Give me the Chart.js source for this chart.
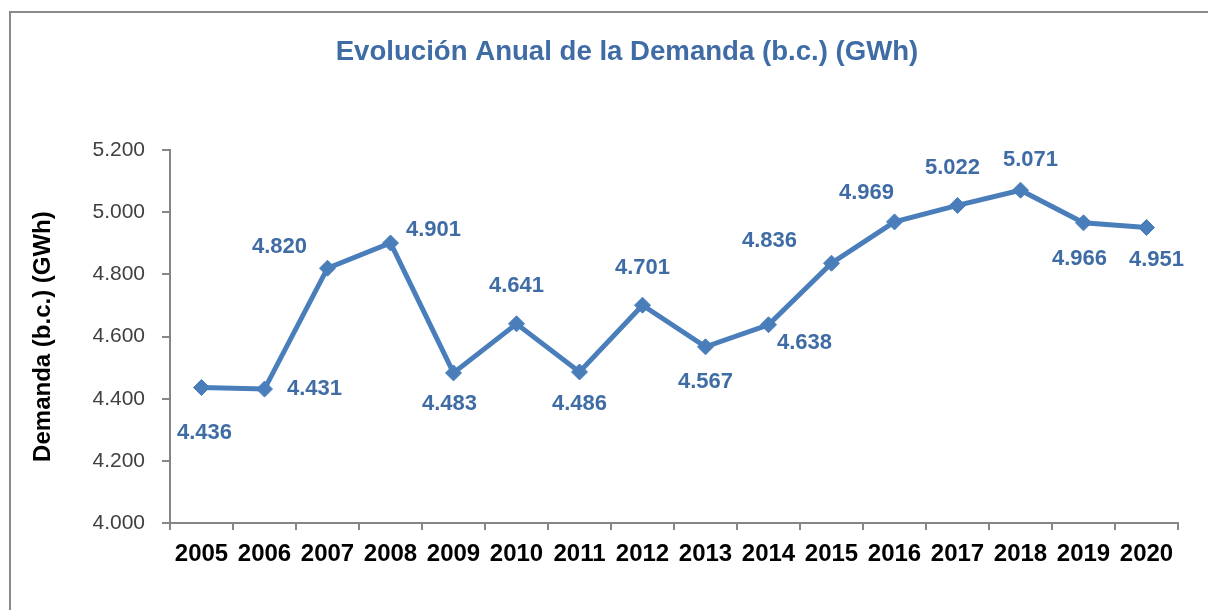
<!DOCTYPE html>
<html>
<head>
<meta charset="utf-8">
<script src="https://cdn.jsdelivr.net/npm/chart.js@4/dist/chart.umd.min.js"></script>
<style>
  html, body { margin: 0; padding: 0; background: #fff; overflow: hidden; }
  #frame {
    position: absolute; left: 9px; top: 11px; width: 1240px; height: 640px;
    border: 2px solid #8a8a8a; box-sizing: border-box;
  }
  #wrap { position: absolute; left: 0; top: 0; width: 1208px; height: 610px; }
</style>
</head>
<body>
<div id="frame"></div>
<div id="wrap"><canvas id="lineChart" width="1208" height="610"></canvas></div>
<script>
// datos
var years = ["2005", "2006", "2007", "2008", "2009", "2010", "2011", "2012",
             "2013", "2014", "2015", "2016", "2017", "2018", "2019", "2020"];
var demand = [4436, 4431, 4820, 4901, 4483, 4641, 4486, 4701,
              4567, 4638, 4836, 4969, 5022, 5071, 4966, 4951];
var yTicks = [4000, 4200, 4400, 4600, 4800, 5000, 5200];

// where each value label sits relative to its marker (dx, dy)
var labelOffsets = [
    [3, 45], [50, 0], [-48, -21], [43, -13], [-4, 31], [0, -38], [0, 32], [0, -37],
    [0, 35], [36, 18], [-62, -22], [-28, -29], [-5, -37], [10, -30], [-4, 36], [10, 32]
];

function fmt(v) {
    return String(v).replace(/\B(?=(\d{3})+(?!\d))/g, '.');
}

var blue = '#4a7ebb';
var labelBlue = '#3f6ca5';

var valueLabels = {
    id: 'valueLabels',
    afterDatasetsDraw: function (chart) {
        var ctx = chart.ctx;
        var meta = chart.getDatasetMeta(0);
        ctx.save();
        ctx.font = 'bold 22px "Liberation Sans", Arial, sans-serif';
        ctx.fillStyle = labelBlue;
        ctx.textAlign = 'center';
        ctx.textBaseline = 'middle';
        meta.data.forEach(function (pt, i) {
            ctx.fillText(fmt(demand[i]), pt.x + labelOffsets[i][0], pt.y + labelOffsets[i][1]);
        });
        ctx.restore();
    }
};

var lineData = {
    labels: years,
    datasets: [
        {
            label: "Demanda",
            data: demand,
            borderColor: blue,
            backgroundColor: blue,
            borderWidth: 5,
            pointStyle: 'rectRot',
            pointRadius: 8,
            pointBorderWidth: 1,
            pointBackgroundColor: blue,
            pointBorderColor: blue,
            tension: 0,
            fill: false
        }
    ]
};

var lineOptions = {
    responsive: false,
    animation: false,
    events: [],
    layout: { padding: { left: 76, right: 30, top: 0, bottom: 0 } },
    plugins: {
        legend: { display: false },
        tooltip: { enabled: false },
        title: {
            display: true,
            text: 'Evolución Anual de la Demanda (b.c.) (GWh)',
            color: labelBlue,
            font: { family: '"Liberation Sans", Arial, sans-serif', size: 27.6, weight: 'bold' },
            padding: { top: 36, bottom: 81 }
        }
    },
    scales: {
        x: {
            offset: true,
            grid: { offset: true, drawOnChartArea: false, color: '#868686', lineWidth: 2, tickLength: 7 },
            border: { color: '#868686', width: 2 },
            ticks: {
                color: '#000',
                autoSkip: false,
                maxRotation: 0,
                padding: 10,
                font: { family: '"Liberation Sans", Arial, sans-serif', size: 24, weight: 'bold' }
            },
            afterFit: function (scale) { scale.height = 87; }
        },
        y: {
            min: yTicks[0],
            max: yTicks[yTicks.length - 1],
            afterBuildTicks: function (scale) {
                scale.ticks = yTicks.map(function (v) { return { value: v }; });
            },
            grid: { drawOnChartArea: false, color: '#868686', lineWidth: 2, tickLength: 8 },
            border: { color: '#868686', width: 2 },
            ticks: {
                color: '#404040',
                padding: 17,
                font: { family: '"Liberation Sans", Arial, sans-serif', size: 21 },
                callback: function (v) { return fmt(v); }
            },
            title: {
                display: true,
                text: 'Demanda (b.c.) (GWh)',
                color: '#000',
                font: { family: '"Liberation Sans", Arial, sans-serif', size: 24, weight: 'bold' },
                padding: { top: -47, bottom: 0 }
            },
            afterFit: function (scale) { scale.width = 94; }
        }
    }
};

var ctx = document.getElementById("lineChart").getContext("2d");
new Chart(ctx, { type: 'line', data: lineData, options: lineOptions, plugins: [valueLabels] });
</script>
</body>
</html>
